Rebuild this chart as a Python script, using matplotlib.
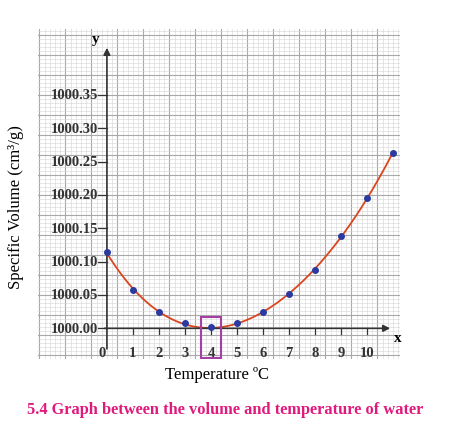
import numpy as np
import matplotlib.pyplot as plt
from matplotlib.patches import Rectangle

temps = [0, 1, 2, 3, 4, 5, 6, 7, 8, 9, 10, 11]
volumes = [0.114, 0.057, 0.025, 0.0075, 0.0015, 0.0075, 0.024, 0.051,
           0.088, 0.138, 0.196, 0.263]  # offset from 1000
y_ticks = [0.00, 0.05, 0.10, 0.15, 0.20, 0.25, 0.30, 0.35]
x_ticks = [1, 2, 3, 4, 5, 6, 7, 8, 9, 10]

plt.rcParams['font.family'] = ['Liberation Serif', 'DejaVu Serif']

fig = plt.figure(figsize=(4.56, 4.31), dpi=100)
ax = fig.add_axes([38 / 456, 71 / 431, 362 / 456, 330 / 431])
ax.set_xlim(-2.65, 11.27)
ax.set_ylim(-0.046, 0.449)
ax.set_xticks(np.arange(-2.6, 11.3, 1.0))
ax.set_xticks(np.arange(-2.6, 11.3, 0.2), minor=True)
ax.set_yticks(np.arange(-0.04, 0.45, 0.03))
ax.set_yticks(np.arange(-0.04, 0.45, 0.006), minor=True)
ax.grid(which='major', color='#a8a8a8', lw=0.8)
ax.grid(which='minor', color='#d4d4d4', lw=0.4)
ax.tick_params(which='both', length=0, labelbottom=False, labelleft=False)
for s in ax.spines.values():
    s.set_visible(False)

# axes with arrows
ax.annotate('', xy=(0, 0.425), xytext=(0, -0.035),
            arrowprops=dict(arrowstyle='-|>', color='#333', lw=1.2))
ax.annotate('', xy=(11.0, 0), xytext=(-0.2, 0),
            arrowprops=dict(arrowstyle='-|>', color='#333', lw=1.2))
ax.text(-0.45, 0.43, 'y', fontsize=11, fontweight='bold', ha='center')
ax.text(11.2, -0.014, 'x', fontsize=11, fontweight='bold', ha='center', va='center')

for v in y_ticks:
    ax.plot([-0.35, 0], [v, v], color='#333', lw=0.9)
    ax.text(-0.35, v, f'{1000 + v:.2f}', ha='right', va='center',
            fontsize=10.5, fontweight='bold', color='#333')
for t in x_ticks:
    ax.plot([t, t], [0, -0.008], color='#333', lw=0.9)
    ax.text(t, -0.037, str(t), ha='center', va='center',
            fontsize=10.5, fontweight='bold', color='#333')
ax.text(-0.2, -0.037, '0', ha='center', va='center',
        fontsize=10.5, fontweight='bold', color='#333')

coef = np.polyfit(temps, volumes, 4)
xs = np.linspace(0, 11, 200)
ax.plot(xs, np.polyval(coef, xs), color='#d9461e', lw=1.3)
ax.scatter(temps, volumes, s=16, color='#2b3aa0', zorder=3)

ax.add_patch(Rectangle((3.6, -0.045), 0.8, 0.062, fill=False,
                       ec='#a43fa6', lw=1.5, zorder=4))

fig.text(16 / 456, 0.52, 'Specific Volume (cm³/g)', rotation=90,
         ha='center', va='center', fontsize=12)
fig.text(217 / 456, 1 - 375 / 431, 'Temperature ºC', ha='center',
         va='center', fontsize=12)
fig.text(225 / 456, 1 - 410 / 431,
         '5.4 Graph between the volume and temperature of water',
         ha='center', va='center', fontsize=11.8, fontweight='bold',
         color='#e0197d')

fig.savefig('out.png', dpi=100)
